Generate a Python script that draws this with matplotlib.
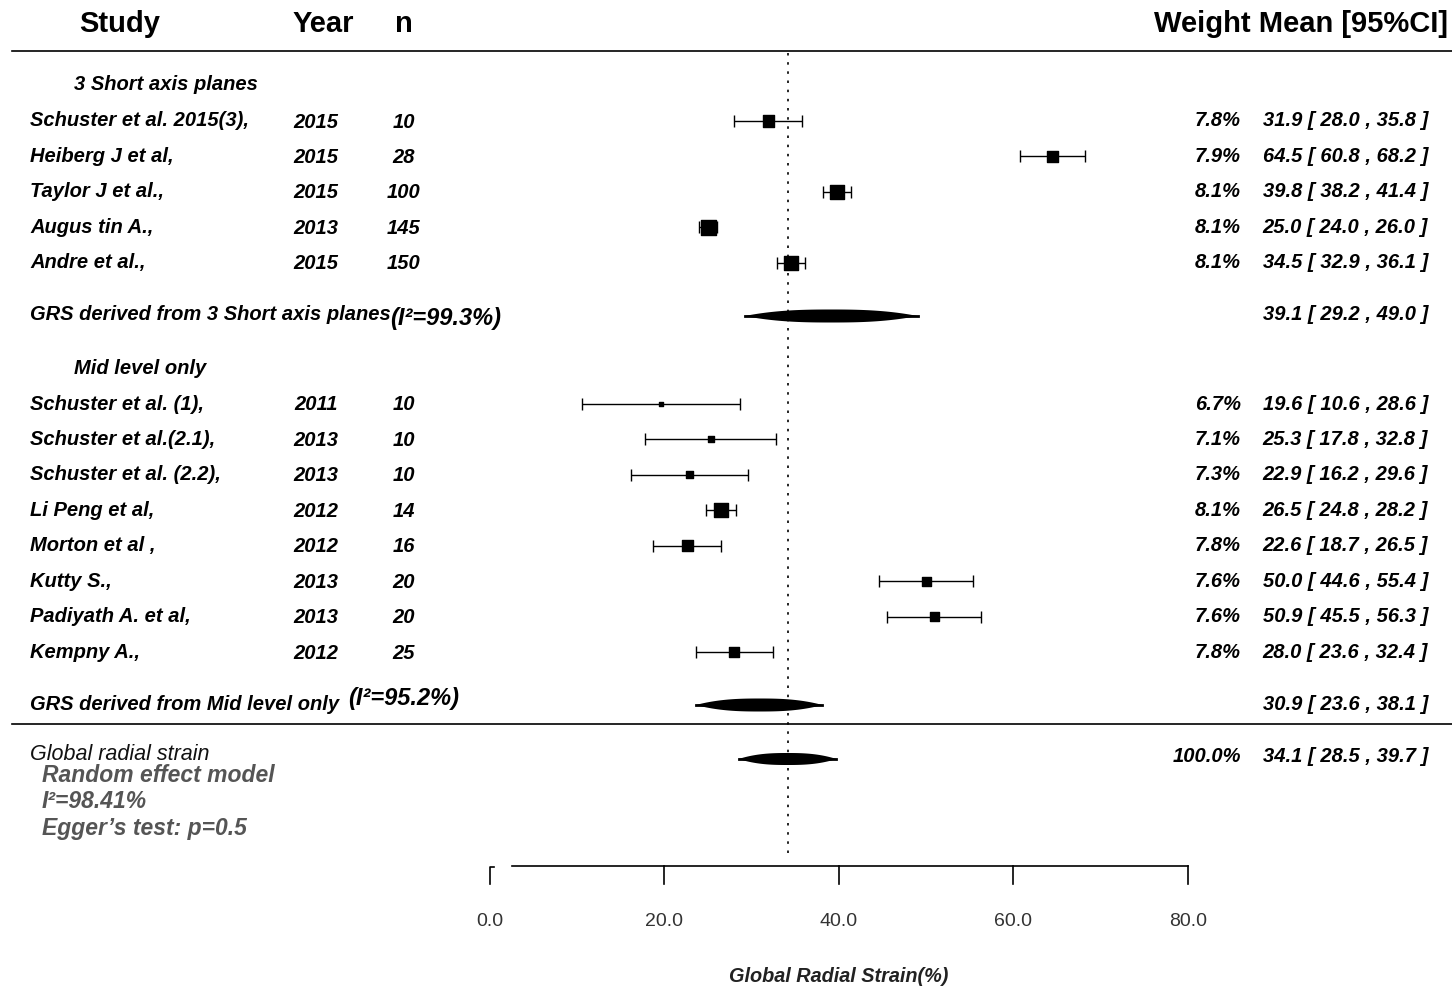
import matplotlib.pyplot as plt
import numpy as np

# 3 short axis planes
studies_sa = ["Schuster et al. 2015(3),", "Heiberg J et al,", "Taylor J et al.,",
              "Augus tin A.,", "Andre et al.,"]
years_sa = [2015, 2015, 2015, 2013, 2015]
n_sa = [10, 28, 100, 145, 150]
weights_sa = [7.8, 7.9, 8.1, 8.1, 8.1]
means_sa = [31.9, 64.5, 39.8, 25.0, 34.5]
lo_sa = [28.0, 60.8, 38.2, 24.0, 32.9]
hi_sa = [35.8, 68.2, 41.4, 26.0, 36.1]

# mid level only
studies_mid = ["Schuster et al. (1),", "Schuster et al.(2.1),", "Schuster et al. (2.2),",
               "Li Peng et al,", "Morton et al ,", "Kutty S.,", "Padiyath A. et al,",
               "Kempny A.,"]
years_mid = [2011, 2013, 2013, 2012, 2012, 2013, 2013, 2012]
n_mid = [10, 10, 10, 14, 16, 20, 20, 25]
weights_mid = [6.7, 7.1, 7.3, 8.1, 7.8, 7.6, 7.6, 7.8]
means_mid = [19.6, 25.3, 22.9, 26.5, 22.6, 50.0, 50.9, 28.0]
lo_mid = [10.6, 17.8, 16.2, 24.8, 18.7, 44.6, 45.5, 23.6]
hi_mid = [28.6, 32.8, 29.6, 28.2, 26.5, 55.4, 56.3, 32.4]

# pooled estimates
summ_labels = ["GRS derived from 3 Short axis planes", "GRS derived from Mid level only"]
summ_i2 = ["99.3", "95.2"]
summ_mean = [39.1, 30.9]
summ_lo = [29.2, 23.6]
summ_hi = [49.0, 38.1]
glob_mean, glob_lo, glob_hi = 34.1, 28.5, 39.7
glob_i2 = "98.41"
egger_p = "0.5"

xticks = [0, 20, 40, 60, 80]

FAM = ['Liberation Sans Narrow', 'Liberation Sans', 'DejaVu Sans']
X0 = 490.0
XS = 8.725


def px(x):
    return (x - X0) / XS


fig = plt.figure(figsize=(14.52, 9.9), dpi=100)
ax = fig.add_axes([0, 0, 1, 1])
ax.set_xlim(px(0), px(1452))
ax.set_ylim(990, 0)
ax.axis('off')

row_kw = dict(family=FAM, style='italic', weight='bold', fontsize=14.5, va='center')

# header
hdr = dict(family=['Liberation Sans', 'DejaVu Sans'], weight='bold', fontsize=21, va='center')
ax.text(px(120), 24, "Study", ha='center', **hdr)
ax.text(px(323), 24, "Year", ha='center', **hdr)
ax.text(px(404), 24, "n", ha='center', **hdr)
ax.text(px(1448), 24, "Weight Mean [95%CI]", ha='right', **hdr)
ax.plot([px(12), px(1452)], [51, 51], color='black', lw=1.2)
ax.plot([px(12), px(1452)], [724, 724], color='black', lw=1.2)


def draw_group(title, ty, names, years, ns, w, m, lo, hi, y0):
    ax.text(px(74), ty, title, ha='left', **row_kw)
    y = y0 + 35.45 * np.arange(len(names))
    m = np.array(m)
    lo = np.array(lo)
    hi = np.array(hi)
    ax.errorbar(m, y, xerr=[m - lo, hi - m], fmt='none', ecolor='black',
                elinewidth=1, capsize=4, capthick=1)
    size_px = np.clip(16.5 - 0.7 * (hi - lo), 3.5, 16)
    ax.scatter(m, y, marker='s', s=(size_px * 0.72) ** 2, color='black', zorder=3)
    for i in range(len(names)):
        ax.text(px(30), y[i], names[i], ha='left', **row_kw)
        ax.text(px(316), y[i] + 1, str(years[i]), ha='center', **row_kw)
        ax.text(px(404), y[i] + 1, str(ns[i]), ha='center', **row_kw)
        ax.text(px(1241), y[i], "%.1f%%" % w[i], ha='right', **row_kw)
        ax.text(px(1428), y[i], "%.1f [ %.1f , %.1f ]" % (m[i], lo[i], hi[i]),
                ha='right', **row_kw)


def diamond(m, lo, hi, y, h=6.5):
    # fat lens-like pooled-estimate shape
    t = np.linspace(-1, 1, 101)
    xs = np.where(t < 0, m + t * (m - lo), m + t * (hi - m))
    half = h * (1 - np.abs(t) ** 2.6)
    ax.fill(np.concatenate([xs, xs[::-1]]), np.concatenate([y - half, (y + half)[::-1]]),
            color='black', lw=0, zorder=3)
    ax.plot([lo, hi], [y, y], color='black', lw=2, zorder=3)


draw_group("3 Short axis planes", 84, studies_sa, years_sa, n_sa, weights_sa,
           means_sa, lo_sa, hi_sa, 121)
draw_group("Mid level only", 368, studies_mid, years_mid, n_mid, weights_mid,
           means_mid, lo_mid, hi_mid, 404)

# subgroup summaries
summ_y = [316, 705]
i2_x = [390, 348]
i2_y = [319, 698]
for k in range(2):
    ax.text(px(30), summ_y[k] - 1, summ_labels[k], ha='left', **row_kw)
    ax.text(px(i2_x[k]), i2_y[k], "(I²=%s%%)" % summ_i2[k], ha='left',
            family=FAM, style='italic', weight='bold', fontsize=17, va='center')
    diamond(summ_mean[k], summ_lo[k], summ_hi[k], summ_y[k])
    ax.text(px(1428), summ_y[k] - 1, "%.1f [ %.1f , %.1f ]" % (summ_mean[k], summ_lo[k], summ_hi[k]),
            ha='right', **row_kw)

# overall
ax.text(px(30), 755, "Global radial strain", ha='left',
        family=FAM, style='italic', fontsize=15.5, va='center', color='#111111')
diamond(glob_mean, glob_lo, glob_hi, 759, h=6)
ax.text(px(1241), 757, "100.0%", ha='right', **row_kw)
ax.text(px(1428), 757, "%.1f [ %.1f , %.1f ]" % (glob_mean, glob_lo, glob_hi), ha='right', **row_kw)

grey = dict(family=['Liberation Sans', 'DejaVu Sans'], style='italic', weight='bold',
            fontsize=16.5, va='center', ha='left', color='#555555')
ax.text(px(42), 775, "Random effect model", **grey)
ax.text(px(42), 802, "I²=%s%%" % glob_i2, **grey)
ax.text(px(42), 829, "Egger\u2019s test: p=%s" % egger_p, **grey)

# reference line at pooled mean
ax.plot([glob_mean, glob_mean], [53, 858], color='black', lw=1.2, ls=(0, (1.5, 4)), zorder=1)

# x axis
ax.plot([px(512), 80], [866, 866], color='black', lw=1.2)
ax.plot([0, 0, px(494)], [884, 867, 867], color='black', lw=1.2)
for t in xticks[1:]:
    ax.plot([t, t], [866, 884], color='black', lw=1.2)
for t in xticks:
    ax.text(t, 922, "%.1f" % t, ha='center', va='center', family=FAM,
            fontsize=14, color='#333333')
ax.text(40, 976, "Global Radial Strain(%)", ha='center', va='center', family=FAM,
        style='italic', weight='bold', fontsize=14.3, color='#222222')

fig.savefig("out.png", dpi=100)
